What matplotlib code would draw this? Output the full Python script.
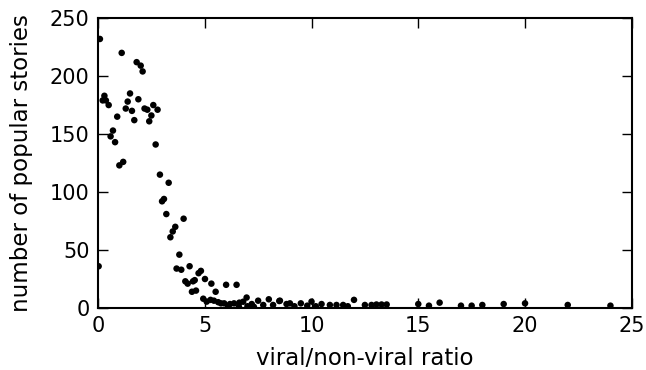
import matplotlib
matplotlib.use("Agg")
import matplotlib.pyplot as plt

# viral/non-viral ratio vs. number of popular stories
ratio = [
    0.03, 0.09, 1.11, 1.81, 2.0, 2.09, 0.30, 0.22, 0.37, 0.5,
    1.5, 1.89, 1.39, 1.30, 1.59, 2.18, 2.31, 2.59, 2.79, 2.5,
    0.9, 1.7, 2.4, 0.70, 0.59, 0.80, 2.7, 1.0, 1.18, 2.9,
    3.31, 3.0, 3.09, 3.2, 4.01, 3.5, 3.62, 3.39, 3.81, 3.68,
    3.9, 4.29, 4.09, 4.2, 4.53, 4.45, 4.71, 4.82, 5.01, 4.40,
    4.59, 5.31, 5.51, 6.0, 6.49, 4.93, 5.09, 5.27, 5.43, 5.63,
    5.76, 5.91, 6.18, 6.37, 6.62, 6.80, 6.96, 7.20, 7.5, 7.74,
    8.0, 8.2, 8.52, 8.83, 8.49, 8.99, 9.5, 10.0, 10.47, 10.86,
    11.17, 11.48, 11.99, 12.5, 12.81, 13.04, 13.28, 13.52, 15.0, 15.5,
    16.0, 17.0, 17.5, 18.0, 19.0, 20.0, 22.0, 24.0, 6.1, 7.0,
    9.2, 9.8, 10.2, 11.7, 6.6, 7.3,
]
stories = [
    36, 232, 220, 212, 209, 204, 183, 179, 179, 175,
    185, 180, 178, 172, 170, 172, 171, 175, 171, 166,
    165, 162, 161, 153, 148, 143, 141, 123, 126, 115,
    108, 92, 94, 81, 77, 66, 70, 61, 46, 34,
    33, 36, 23, 21, 24, 23, 30, 32, 25, 14,
    15, 21, 14, 20, 20, 8, 5.5, 7, 6.3, 5,
    4, 4, 3.4, 4, 4.6, 5.4, 9, 3.4, 6.3, 2.6,
    7.5, 2.6, 6.3, 3.4, 6, 4, 4, 5.5, 3.4, 2.6,
    2.6, 2.6, 7, 2.6, 2.6, 3, 3, 3, 3.4, 2,
    4.6, 2, 2, 2.6, 3.4, 4, 2.6, 2, 1.5, 1.5,
    1.5, 2, 1.5, 1.5, 1, 1,
]

x_ticks = [0, 5, 10, 15, 20, 25]
y_ticks = [0, 50, 100, 150, 200, 250]

fig = plt.figure(figsize=(6.46, 3.70), dpi=100)
ax = fig.add_axes([0.1517, 0.1676, 0.8263, 0.7835])

ax.scatter(ratio, stories, s=22, c="black", edgecolors="none", zorder=3)

ax.set_xlim(0, 25)
ax.set_ylim(0, 250)
ax.set_xticks(x_ticks)
ax.set_yticks(y_ticks)
ax.tick_params(direction="in", length=7, width=1, labelsize=15,
               top=True, right=True, pad=6)
for sp in ax.spines.values():
    sp.set_linewidth(1.5)

ax.set_xlabel("viral/non-viral ratio", fontsize=16.5, labelpad=8)
ax.set_ylabel("number of popular stories", fontsize=16.5, labelpad=12)

fig.savefig("out.png", dpi=100)
